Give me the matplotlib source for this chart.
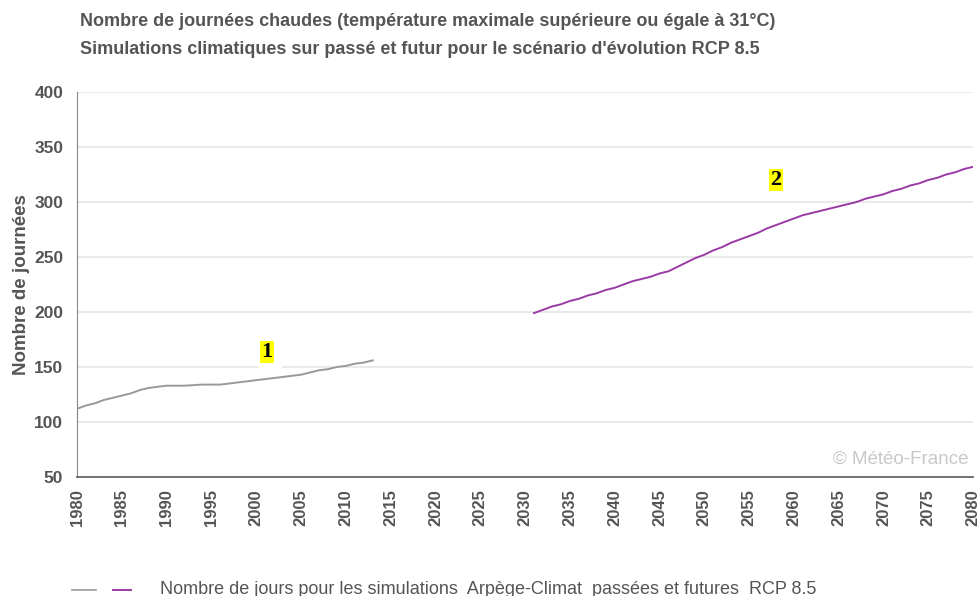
import matplotlib.pyplot as plt
from matplotlib.lines import Line2D

# values
years_past = list(range(1980, 2014))
days_past = [112, 115, 117, 120, 122, 124, 126, 129, 131, 132,
             133, 133, 133, 133.5, 134, 134, 134, 135, 136, 137,
             138, 139, 140, 141, 142, 143, 145, 147, 148, 150,
             151, 153, 154, 156]

years_future = list(range(2031, 2081))
days_future = [199, 202, 205, 207, 210, 212, 215, 217, 220, 222,
               225, 228, 230, 232, 235, 237, 241, 245, 249, 252,
               256, 259, 263, 266, 269, 272, 276, 279, 282, 285,
               288, 290, 292, 294, 296, 298, 300, 303, 305, 307,
               310, 312, 315, 317, 320, 322, 325, 327, 330, 332]

x_ticks = list(range(1980, 2081, 5))
y_ticks = list(range(50, 401, 50))

TXT = '#555555'
plt.rcParams['font.family'] = ['Liberation Sans', 'DejaVu Sans']

fig = plt.figure(figsize=(9.79, 5.96), dpi=100)
ax = fig.add_axes([0.0787, 0.1997, 0.9152, 0.6459])

ax.plot(years_past, days_past, color='#999999', lw=1.4)
ax.plot(years_future, days_future, color='#9b3aa6', lw=1.4)

ax.set_xlim(1980, 2080)
ax.set_ylim(50, 400)
ax.set_xticks(x_ticks)
ax.set_yticks(y_ticks)
ax.set_xticklabels([str(v) for v in x_ticks], rotation=90, fontsize=12,
                   fontweight='bold', color=TXT)
ax.set_yticklabels([str(v) for v in y_ticks], fontsize=12.5,
                   fontweight='bold', color=TXT)
ax.tick_params(length=0, pad=10)
ax.tick_params(axis='x', pad=9)
ax.grid(axis='y', color='#e6e6e6', lw=1.2)
ax.set_axisbelow(True)
for s in ['top', 'right']:
    ax.spines[s].set_visible(False)
ax.spines['left'].set_color('#888888')
ax.spines['bottom'].set_color('#666666')
ax.spines['bottom'].set_linewidth(1.3)

ax.set_ylabel('Nombre de journées', fontsize=13.5, fontweight='bold',
              color=TXT, labelpad=3)

# numbered labels
for lbl, xx, yy in [('1', 2001.2, 163.5), ('2', 2058, 320)]:
    ax.text(xx + 0.3, yy - 14, '        ', fontsize=7, ha='center', va='center',
            bbox=dict(boxstyle='square,pad=0.1', fc='white', ec='none'))
    ax.text(xx, yy, lbl, fontsize=16, fontweight='bold', family='Liberation Serif',
            color='black', ha='center', va='center',
            bbox=dict(boxstyle='square,pad=0.05', fc='#ffff00', ec='none'))

ax.text(0.995, 0.045, '\u00a9 Météo-France', transform=ax.transAxes,
        fontsize=13.5, color='#c8c8c8', ha='right', va='center')

fig.text(0.082, 1 - 22 / 596, 'Nombre de journées chaudes (température maximale supérieure ou égale à 31°C)',
         fontsize=13, fontweight='bold', color=TXT, va='center')
fig.text(0.082, 1 - 50 / 596, "Simulations climatiques sur passé et futur pour le scénario d'évolution RCP 8.5",
         fontsize=13, fontweight='bold', color=TXT, va='center')

# legend row
fig.add_artist(Line2D([72 / 979, 96 / 979], [1 - 590 / 596] * 2, color='#999999', lw=1.2))
fig.add_artist(Line2D([113 / 979, 131 / 979], [1 - 590 / 596] * 2, color='#9b3aa6', lw=1.4))
fig.text(160 / 979, 1 - 589 / 596,
         'Nombre de jours pour les simulations  Arpège-Climat  passées et futures  RCP 8.5',
         fontsize=13, color=TXT, va='center')

fig.savefig('out.png', dpi=100)
